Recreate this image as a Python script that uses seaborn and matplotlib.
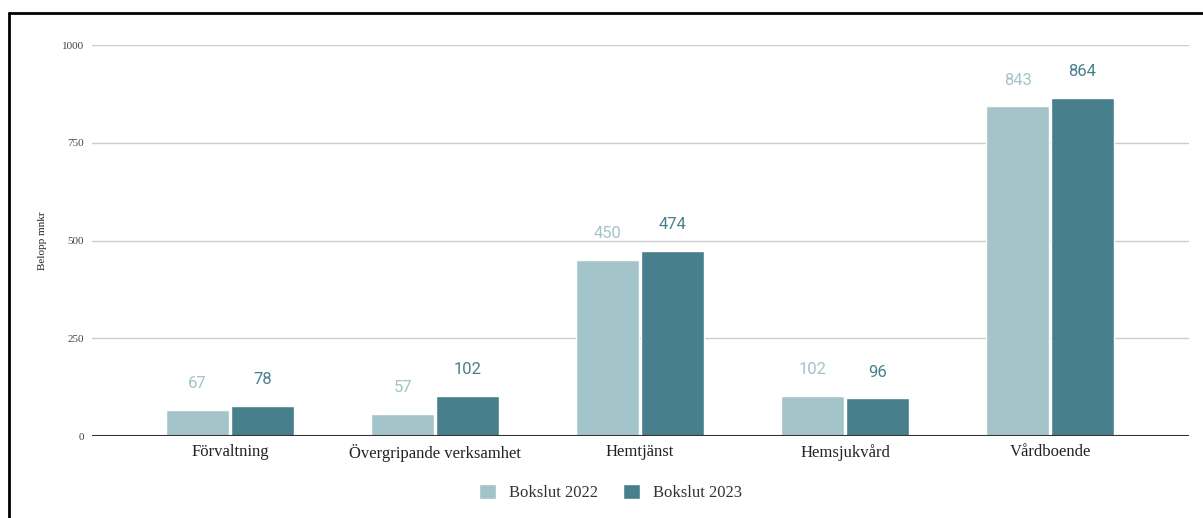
import pandas as pd
import seaborn as sns
import matplotlib.pyplot as plt
from matplotlib.lines import Line2D

categories = ['Förvaltning', 'Övergripande verksamhet', 'Hemtjänst', 'Hemsjukvård', 'Vårdboende']
bokslut_2022 = [67, 57, 450, 102, 843]
bokslut_2023 = [78, 102, 474, 96, 864]
series = ['Bokslut 2022', 'Bokslut 2023']
colors = ['#a3c4c9', '#47808c']

df = pd.DataFrame({
    'kategori': categories * 2,
    'serie': [series[0]] * 5 + [series[1]] * 5,
    'belopp': bokslut_2022 + bokslut_2023,
})

sns.set_theme(style='white')
plt.rcParams['font.family'] = ['Liberation Serif', 'DejaVu Serif']

fig = plt.figure(figsize=(12.03, 5.18), dpi=100)
ax = fig.add_axes([0.0765, 0.1583, 0.9119, 0.7547])

sns.barplot(data=df, x='kategori', y='belopp', hue='serie', palette=colors,
            width=0.63, gap=0.02, saturation=1, ax=ax, legend=True, zorder=3)

ax.set_ylim(0, 1000)
ax.set_xlim(-0.673, 4.678)
ax.set_yticks([0, 250, 500, 750, 1000])
ax.grid(axis='y', color='#cccccc', linewidth=1, zorder=0)
ax.axhline(0, color='#333333', linewidth=1.5, zorder=4)
for s in ax.spines.values():
    s.set_visible(False)
ax.tick_params(axis='y', labelsize=8, colors='#444444', length=0, pad=6)
ax.tick_params(axis='x', labelsize=12, colors='#222222', length=0, pad=6)
ax.set_xlabel('')
ax.set_ylabel('Belopp mnkr', fontsize=8, color='#222222')
ax.yaxis.set_label_coords(-0.041, 0.5)

# data labels
for container, col in zip(ax.containers, colors):
    for bar in container:
        h = bar.get_height()
        ax.annotate(f'{h:.0f}', (bar.get_x() + bar.get_width() / 2, h),
                    xytext=(0, 19), textcoords='offset points', ha='center', va='center',
                    fontsize=12, color=col, family=['Roboto', 'DejaVu Sans'])

leg = ax.legend(loc='upper center', bbox_to_anchor=(0.473, -0.085), ncol=2, frameon=False,
                fontsize=12, handlelength=1.0, handleheight=1.0, columnspacing=1.5,
                handletextpad=0.8)
for t in leg.get_texts():
    t.set_color('#333333')

# frame lines on top and left of the image
fig.add_artist(Line2D([0.0075, 1.0], [1 - 13 / 518] * 2, color='black', linewidth=2,
                      transform=fig.transFigure))
fig.add_artist(Line2D([0.0075, 0.0075], [0, 1 - 13 / 518], color='black', linewidth=2,
                      transform=fig.transFigure))

fig.savefig('out.png', dpi=100)
